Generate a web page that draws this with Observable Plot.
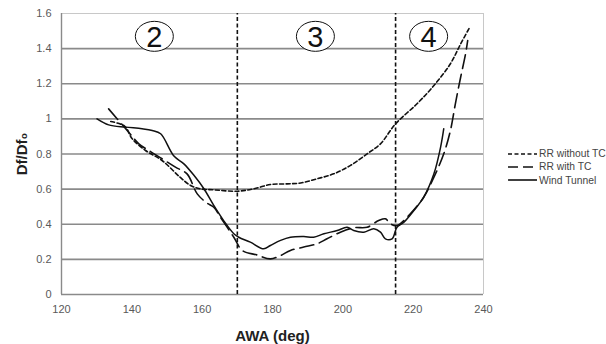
<!DOCTYPE html>
<html>
<head>
<meta charset="utf-8">
<script src="https://cdn.jsdelivr.net/npm/d3@7"></script>
<script src="https://cdn.jsdelivr.net/npm/@observablehq/plot@0.6"></script>
<style>
  html, body { margin: 0; padding: 0; background: #fff; }
  #wrap { position: relative; width: 606px; height: 344px; font-family: "Liberation Sans", Arial, sans-serif; }
  #legend { position: absolute; left: 508px; top: 147px; font-size: 10.3px; color: #444; }
  #legend .row { display: flex; align-items: center; height: 13.3px; white-space: nowrap; }
  #legend svg { display: block; margin-right: 1px; }
  svg [aria-label="x-axis label"] text, svg [aria-label="y-axis label"] text { font-size: 15px; font-weight: bold; fill: #222; }
</style>
</head>
<body>
<div id="wrap"><div id="chart"></div><div id="legend"></div></div>
<script>
// ---- data ----
const windX = [130.1,133.4,138.2,142.9,145.8,148.2,151.9,154.8,157.6,160.5,163.3,166.1,169,170.4,173.7,177.5,179.4,182.3,185.1,188.9,191.7,194.6,198.4,201.2,203.1,206,208.8,210.7,212.1,214,215.4,217.3,220.2,223,225.9,227.8,228.7];
const windY = [1.0,0.966,0.953,0.944,0.934,0.915,0.79,0.744,0.68,0.602,0.507,0.421,0.346,0.326,0.298,0.26,0.279,0.308,0.326,0.33,0.326,0.346,0.364,0.383,0.364,0.355,0.374,0.355,0.317,0.317,0.383,0.41,0.478,0.554,0.687,0.839,0.944];

const withTcX = [133.4,139.1,142,144.8,148.6,152.4,155.7,158.6,161.4,163.3,165.2,169,171.4,175.6,179.4,182.3,185.1,188.9,192.7,195.5,199.3,203.1,206.9,210.2,212.1,213.5,215.4,219.2,223,225.9,228.7,230.6,232,233.5,234.9,235.5];
const withTcY = [1.057,0.924,0.858,0.82,0.773,0.725,0.687,0.573,0.52,0.497,0.44,0.326,0.251,0.225,0.203,0.222,0.251,0.27,0.289,0.317,0.355,0.38,0.383,0.421,0.431,0.403,0.393,0.46,0.554,0.668,0.801,0.934,1.086,1.237,1.37,1.446];

const noTcX = [134,138,140.1,143.9,148.6,153.6,156.7,159.5,163.3,170,174.7,179.4,184.2,188,192.7,197.4,202.2,206.9,210.7,215,221.1,225.9,230.6,233.5,236.1];
const noTcY = [0.985,0.958,0.887,0.82,0.763,0.67,0.621,0.602,0.596,0.588,0.602,0.626,0.63,0.635,0.659,0.687,0.735,0.801,0.858,0.972,1.086,1.19,1.314,1.427,1.522];

const boundaries = [170, 215];
const zoneLabels = ["2", "3", "4"];
const zoneX = [146.4, 192.2, 224.4];
const zoneY = [1.47, 1.47, 1.47];
const xTicks = [120, 140, 160, 180, 200, 220, 240];
const yTicks = [0, 0.2, 0.4, 0.6, 0.8, 1, 1.2, 1.4, 1.6];
const seriesNames = ["RR without TC", "RR with TC", "Wind Tunnel"];

// ---- tables ----
const toRows = (xs, ys) => xs.map((x, i) => ({x, y: ys[i]}));
const wind = toRows(windX, windY);
const withTc = toRows(withTcX, withTcY);
const noTc = toRows(noTcX, noTcY);
const zones = zoneLabels.map((t, i) => ({t, x: zoneX[i], y: zoneY[i]}));

const ellipse = {
  draw(ctx) {
    const rx = 19, ry = 15, k = 0.5523;
    ctx.moveTo(rx, 0);
    ctx.bezierCurveTo(rx, ry * k, rx * k, ry, 0, ry);
    ctx.bezierCurveTo(-rx * k, ry, -rx, ry * k, -rx, 0);
    ctx.bezierCurveTo(-rx, -ry * k, -rx * k, -ry, 0, -ry);
    ctx.bezierCurveTo(rx * k, -ry, rx, -ry * k, rx, 0);
    ctx.closePath();
  }
};

const chart = Plot.plot({
  width: 500,
  height: 344,
  marginLeft: 61,
  marginRight: 17,
  marginTop: 13,
  marginBottom: 50,
  style: {fontFamily: "Liberation Sans, Arial, sans-serif", fontSize: "11px", color: "#595959", background: "#fff"},
  x: {domain: [120, 240]},
  y: {domain: [0, 1.6]},
  marks: [
    Plot.ruleY(yTicks.filter(d => d > 0 && d < 1.6), {stroke: "#8a8a8a", strokeWidth: 1.6}),
    Plot.ruleY([1.6], {stroke: "#c8c8c8", strokeWidth: 1}),
    Plot.ruleX([240], {stroke: "#c8c8c8", strokeWidth: 1}),
    Plot.ruleX([120], {stroke: "#8a8a8a", strokeWidth: 1.4}),
    Plot.ruleY([0], {stroke: "#8a8a8a", strokeWidth: 1.6}),
    Plot.ruleX(boundaries, {y1: 0, y2: 1.6, stroke: "#111", strokeWidth: 1.6, strokeDasharray: "4,2.5"}),
    Plot.line(noTc, {x: "x", y: "y", curve: "catmull-rom", stroke: "#111", strokeWidth: 1.6, strokeDasharray: "4,2.5"}),
    Plot.line(withTc, {x: "x", y: "y", curve: "catmull-rom", stroke: "#111", strokeWidth: 1.6, strokeDasharray: "14,6"}),
    Plot.line(wind, {x: "x", y: "y", curve: "catmull-rom", stroke: "#111", strokeWidth: 1.5}),
    Plot.dot(zones, {x: "x", y: "y", symbol: ellipse, r: 15, stroke: "#111", strokeWidth: 1, fill: "#fff"}),
    Plot.text(zones, {x: "x", y: "y", text: "t", fontSize: 29, fill: "#111", fontFamily: "Liberation Sans, Arial, sans-serif", dy: 1}),
    Plot.axisX({ticks: xTicks, tickSize: 0, tickPadding: 11, label: "AWA (deg)", labelAnchor: "center", labelArrow: "none", labelOffset: 46}),
    Plot.axisY({ticks: yTicks, tickSize: 0, tickPadding: 10, tickFormat: d => String(+d.toFixed(1)), label: "Df/Df\u2080", labelAnchor: "center", labelArrow: "none", labelOffset: 45})
  ]
});
document.getElementById("chart").appendChild(chart);

// ---- legend ----
const dashes = ["4,2.5", "10,5", null];
const legend = document.getElementById("legend");
seriesNames.forEach((name, i) => {
  const row = document.createElement("div");
  row.className = "row";
  const da = dashes[i] ? ` stroke-dasharray="${dashes[i]}"` : "";
  row.innerHTML = `<svg width="30" height="6"><line x1="0" y1="3" x2="29" y2="3" stroke="#111" stroke-width="1.6"${da}/></svg><span>${name}</span>`;
  legend.appendChild(row);
});
</script>
</body>
</html>
